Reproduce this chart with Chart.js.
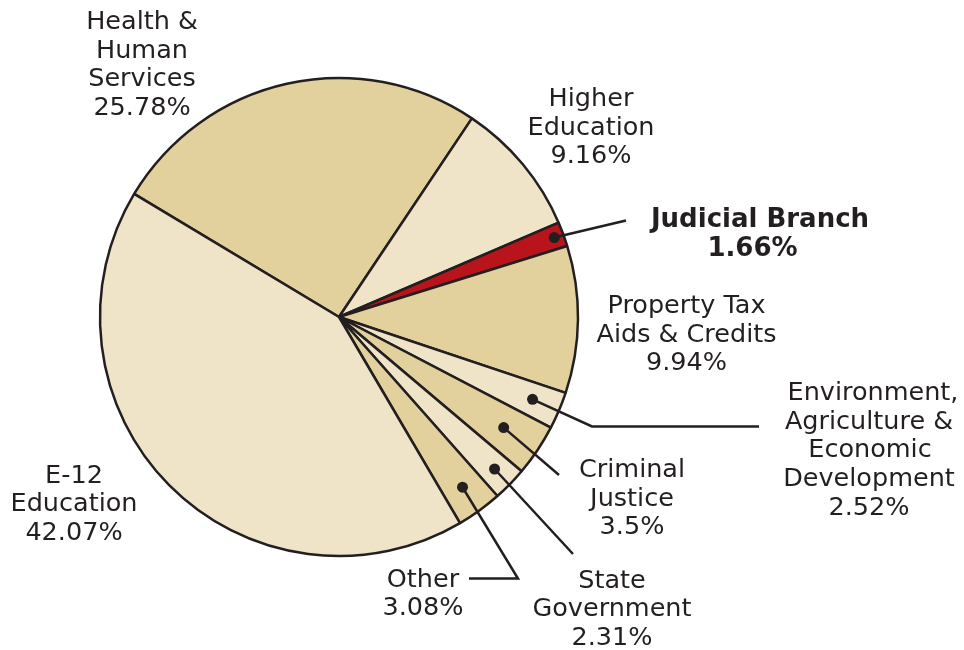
<!DOCTYPE html>
<html>
<head>
<meta charset="utf-8">
<script src="https://cdn.jsdelivr.net/npm/chart.js@4/dist/chart.umd.min.js"></script>
<style>
  html, body { margin: 0; padding: 0; background: #fff; }
  #wrap { width: 964px; height: 650px; position: relative; }
</style>
</head>
<body>
<div id="wrap"><canvas id="budgetPie"></canvas></div>
<script>
// slices, clockwise from Health & Human Services
const categories = ['Health & Human Services', 'Higher Education', 'Judicial Branch', 'Property Tax Aids & Credits',
    'Environment, Agriculture & Economic Development', 'Criminal Justice', 'State Government', 'Other', 'E-12 Education'];
const shares = [25.78, 9.16, 1.66, 9.94, 2.52, 3.5, 2.31, 3.08, 42.07];
const labelLines = [
    ['Health &', 'Human', 'Services'],
    ['Higher', 'Education'],
    ['Judicial Branch'],
    ['Property Tax', 'Aids & Credits'],
    ['Environment,', 'Agriculture &', 'Economic', 'Development'],
    ['Criminal', 'Justice'],
    ['State', 'Government'],
    ['Other'],
    ['E-12', 'Education']
];

const DARK = '#e3d19d', LIGHT = '#efe4c7', RED = '#b9141b', INK = '#231f20';
const sliceColors = [DARK, LIGHT, RED, DARK, LIGHT, DARK, LIGHT, DARK, LIGHT];

// where each label block sits (centre x, first baseline y)
const labelSpots = [
    { x: 142, y: 29 },
    { x: 591, y: 106 },
    { x: [760, 752.5], y: 227, bold: true },
    { x: 686.5, y: 313 },
    { x: [873, 869, 870, 869, 869], y: 400 },
    { x: 632, y: 477 },
    { x: 612, y: 587.5 },
    { x: 423, y: 586.5 },
    { x: 74, y: 482.5 }
];
// leader lines: dot at a fraction of the radius on the slice middle, then a path to the label
const leaders = {
    2: { frac: 0.96, path: [[626, 220.5]] },
    4: { frac: 0.88, path: [[592, 426.5], [759, 426.5]] },
    5: { frac: 0.83, path: [[559, 475]] },
    6: { frac: 0.91, path: [[573, 554]] },
    7: { frac: 0.88, path: [[518, 578.5], [469, 578.5]] }
};

const lineHeight = 28.7;

const pieLabels = {
    id: 'pieLabels',
    afterDatasetsDraw(chart) {
        const ctx = chart.ctx;
        const meta = chart.getDatasetMeta(0);
        ctx.save();
        ctx.fillStyle = INK;
        ctx.strokeStyle = INK;
        ctx.lineWidth = 2.5;
        ctx.textAlign = 'center';
        ctx.textBaseline = 'alphabetic';

        Object.keys(leaders).forEach(k => {
            const i = Number(k);
            const arc = meta.data[i];
            const p = arc.getProps(['x', 'y', 'startAngle', 'endAngle', 'outerRadius'], true);
            const mid = (p.startAngle + p.endAngle) / 2;
            const r = p.outerRadius * leaders[k].frac;
            const dx = p.x + Math.cos(mid) * r;
            const dy = p.y + Math.sin(mid) * r;
            ctx.beginPath();
            ctx.moveTo(dx, dy);
            leaders[k].path.forEach(pt => ctx.lineTo(pt[0], pt[1]));
            ctx.stroke();
            ctx.beginPath();
            ctx.arc(dx, dy, 5.5, 0, Math.PI * 2);
            ctx.fill();
        });

        labelLines.forEach((lines, i) => {
            const spot = labelSpots[i];
            const all = lines.concat([shares[i] + '%']);
            ctx.font = (spot.bold ? 'bold 26px' : '25.5px') + ' "DejaVu Sans", sans-serif';
            all.forEach((txt, j) => {
                const x = Array.isArray(spot.x) ? spot.x[Math.min(j, spot.x.length - 1)] : spot.x;
                ctx.fillText(txt, x, spot.y + j * lineHeight);
            });
        });
        ctx.restore();
    }
};

new Chart(document.getElementById('budgetPie'), {
    type: 'pie',
    data: {
        labels: categories,
        datasets: [{
            data: shares,
            backgroundColor: sliceColors,
            borderColor: INK,
            borderWidth: 2.5
        }]
    },
    options: {
        responsive: true,
        maintainAspectRatio: false,
        animation: false,
        events: [],
        rotation: -59,
        radius: 239,
        layout: { padding: { left: 0, right: 286, top: 0, bottom: 16 } },
        plugins: {
            legend: { display: false },
            tooltip: { enabled: false }
        }
    },
    plugins: [pieLabels]
});
</script>
</body>
</html>
